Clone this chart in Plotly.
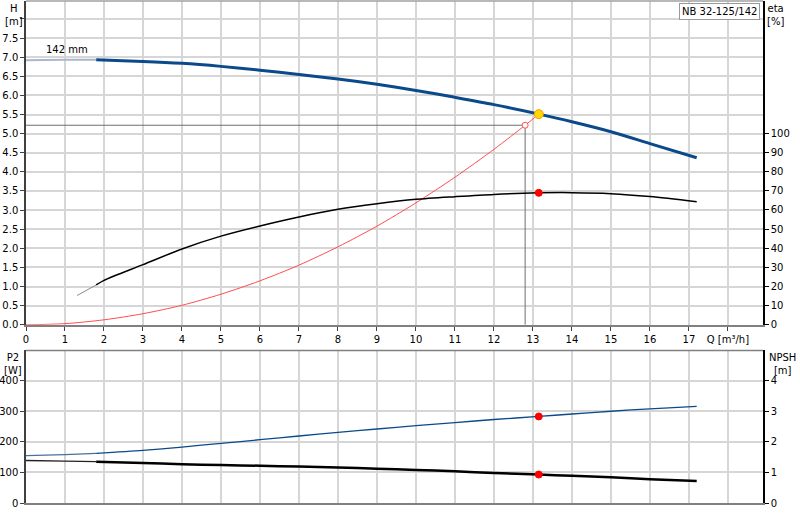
import plotly.graph_objects as go

# pump curve NB 32-125/142
q_h = [0, 1, 1.8, 3, 4, 5, 6, 7, 8, 9, 10, 11, 12, 13.15, 14, 15, 16, 17.2]
head = [6.92, 6.93, 6.93, 6.89, 6.84, 6.76, 6.66, 6.55, 6.43, 6.29, 6.13, 5.95, 5.76, 5.51, 5.31, 5.05, 4.74, 4.37]

q_eta = [1.31, 1.8, 2, 3, 4, 5, 6, 7, 8, 9, 10, 11, 12, 13.15, 14, 15, 16, 17.2]
eta = [15.3, 20.8, 23.2, 31.4, 39.6, 46.3, 51.6, 56.3, 60.3, 63.2, 65.5, 66.9, 68.1, 68.9, 69.0, 68.5, 67.0, 64.3]

q_sys = [0, 1, 2, 3, 4, 5, 6, 7, 8, 9, 10, 11, 12, 12.8, 13.15]
h_sys = [0, 0.03, 0.13, 0.29, 0.51, 0.80, 1.15, 1.56, 2.04, 2.58, 3.19, 3.86, 4.59, 5.22, 5.51]

q_p2 = [0, 1, 1.8, 3, 4, 5, 6, 7, 8, 9, 10, 11, 12, 13.15, 14, 15, 16, 17.2]
p2 = [155, 158, 162, 172, 183, 195, 207, 219, 231, 242, 253, 263, 273, 283, 291, 300, 308, 316]

q_npsh = [0, 1, 1.8, 3, 4, 5, 6, 7, 8, 9, 10, 11, 12, 13.15, 14, 15, 16, 17.2]
npsh = [1.39, 1.37, 1.35, 1.31, 1.27, 1.24, 1.22, 1.19, 1.16, 1.12, 1.08, 1.04, 0.98, 0.93, 0.89, 0.84, 0.78, 0.72]

# duty point and requested point
duty = dict(q=13.15, h=5.51, eta=68.9, p2=283, npsh=0.93)
req = dict(q=12.8, h=5.22)

q_min = 1.8  # curves are drawn lighter left of this
x_ticks = list(range(0, 19))
x_ticktext = [str(i) for i in range(18)] + ['Q [m³/h]']

FONT = 'DejaVu Sans'
GRID = '#d6d6d6'


def split(xs, ys, at):
  lo = [(x, y) for x, y in zip(xs, ys) if x <= at]
  hi = [(x, y) for x, y in zip(xs, ys) if x >= at]
  return lo, hi


def line(pts, color, width, xa='x', ya='y'):
  return go.Scatter(x=[p[0] for p in pts], y=[p[1] for p in pts], mode='lines',
                    line=dict(color=color, width=width, shape='spline', smoothing=0.8),
                    xaxis=xa, yaxis=ya, hoverinfo='skip')


def dot(x, y, color, size, xa='x', ya='y', border=None):
  return go.Scatter(x=[x], y=[y], mode='markers', xaxis=xa, yaxis=ya,
                    marker=dict(color=color, size=size, symbol='circle',
                                line=dict(color=border or color, width=1)),
                    hoverinfo='skip')


def main():
  fig = go.Figure()

  # top chart: head, efficiency, system curve
  lo, hi = split(q_h, head, q_min)
  fig.add_trace(line(lo, '#a9b8cb', 2))
  fig.add_trace(line(hi, '#0b4a8a', 3))

  lo, hi = split(q_eta, eta, q_min)
  fig.add_trace(line(lo, '#8a8a8a', 1, ya='y2'))
  fig.add_trace(line(hi, '#000000', 1.5, ya='y2'))

  fig.add_trace(line(list(zip(q_sys, h_sys)), '#ff4d4d', 1))

  fig.add_trace(go.Scatter(x=[0, req['q'], req['q']], y=[req['h'], req['h'], 0], mode='lines',
                           line=dict(color='#6e6e6e', width=1), hoverinfo='skip'))
  fig.add_trace(dot(req['q'], req['h'], 'white', 6, border='#ff4d4d'))
  fig.add_trace(dot(duty['q'], duty['h'], '#ffd700', 9, border='#f0a000'))
  fig.add_trace(dot(duty['q'], duty['eta'], '#ff0000', 7, ya='y2'))

  # bottom chart: power and npsh
  lo, hi = split(q_p2, p2, q_min)
  fig.add_trace(line(lo, '#4a6f9e', 1.3, xa='x2', ya='y3'))
  fig.add_trace(line(hi, '#0b4a8a', 1.3, xa='x2', ya='y3'))

  lo, hi = split(q_npsh, npsh, q_min)
  fig.add_trace(line(lo, '#222222', 1.3, xa='x2', ya='y4'))
  fig.add_trace(line(hi, '#000000', 2.5, xa='x2', ya='y4'))

  fig.add_trace(dot(duty['q'], duty['p2'], '#ff0000', 7, xa='x2', ya='y3'))
  fig.add_trace(dot(duty['q'], duty['npsh'], '#ff0000', 7, xa='x2', ya='y4'))

  xaxis = dict(range=[0, 18.9], tickvals=x_ticks, showgrid=True, gridcolor=GRID, gridwidth=1.5,
               zeroline=False, showline=True, linecolor='#808080', mirror=False,
               ticks='outside', ticklen=4, tickcolor='#404040', automargin=False)
  yleft = dict(showgrid=True, gridcolor=GRID, gridwidth=1.5, zeroline=False,
               showline=True, linecolor='#404040', linewidth=1.5,
               ticks='outside', ticklen=4, tickcolor='#404040', automargin=False)
  yright = dict(side='right', showgrid=False, zeroline=False,
                showline=True, linecolor='#000000', linewidth=1.5,
                ticks='outside', ticklen=4, tickcolor='#000000', automargin=False)
  fig.update_layout(
    width=800, height=520,
    margin=dict(l=26, r=37, t=1, b=17, autoexpand=False),
    paper_bgcolor='white', plot_bgcolor='white',
    showlegend=False,
    font=dict(family=FONT, size=10, color='#000000'),
    xaxis=dict(xaxis, ticktext=x_ticktext, anchor='y', linewidth=2),
    xaxis2=dict(xaxis, matches='x', anchor='y3', showticklabels=False, ticks='', linewidth=1.5),
    yaxis=dict(yleft, domain=[0.355, 1], range=[0, 8.47],
               tickvals=[i * 0.5 for i in range(17)],
               ticktext=['%.1f' % (i * 0.5) for i in range(16)] + ['']),
    yaxis2=dict(yright, overlaying='y', range=[0, 169.1], tickvals=list(range(0, 101, 10))),
    yaxis3=dict(yleft, domain=[0, 0.304], range=[0, 499], anchor='x2',
                tickvals=list(range(0, 401, 100))),
    yaxis4=dict(yright, overlaying='y3', anchor='x2', range=[0, 4.99],
                tickvals=[0, 1, 2, 3, 4]),
  )

  # frame lines on top of the two panels
  fig.add_shape(type='line', xref='x domain', yref='y domain', x0=0, x1=1, y0=1, y1=1,
                line=dict(color='#a0a0a0', width=1.5))
  fig.add_shape(type='line', xref='x2 domain', yref='y3 domain', x0=0, x1=1, y0=1, y1=1,
                line=dict(color='#808080', width=1.5))

  notes = [
    dict(text='H<br>[m]', x=-0.016, y=1.0, xanchor='center', yanchor='top'),
    dict(text='eta<br>[%]', x=1.017, y=1.0, xanchor='center', yanchor='top'),
    dict(text='P2<br>[W]', x=-0.018, y=0.305, xanchor='center', yanchor='top'),
    dict(text='NPSH<br>[m]', x=1.026, y=0.305, xanchor='center', yanchor='top'),
  ]
  for n in notes:
    fig.add_annotation(xref='paper', yref='paper', showarrow=False, align='center',
                       font=dict(family=FONT, size=10, color='#000000'), **n)

  fig.add_annotation(x=0.46, y=7.19, xref='x', yref='y', text='142 mm', showarrow=False,
                     xanchor='left', font=dict(family=FONT, size=10))
  fig.add_annotation(x=0.996, y=0.997, xref='paper', yref='paper', text='NB 32-125/142',
                     showarrow=False, xanchor='right', yanchor='top', bgcolor='white',
                     bordercolor='#9a9a9a', borderwidth=1, borderpad=2,
                     font=dict(family=FONT, size=10))

  # page body has a default margin, drop it so the chart sits at 0,0
  fig.write_html('out.html', config={'displayModeBar': False},
                 post_script="document.body.style.margin='0';")


if __name__ == '__main__':
  main()
